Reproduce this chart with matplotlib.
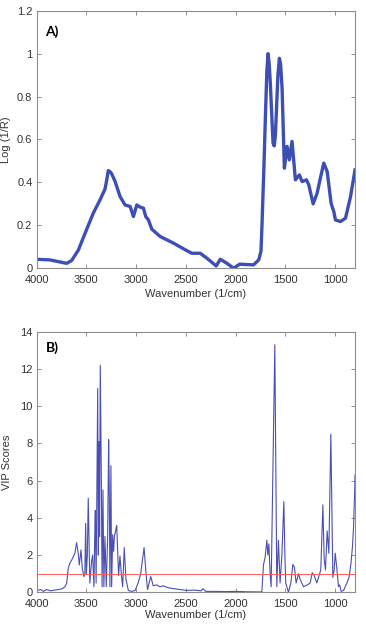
import matplotlib
matplotlib.use("Agg")
import matplotlib.pyplot as plt
from matplotlib.ticker import FuncFormatter

# spectrum (panel A)
wn_a = [4000, 3866, 3698, 3648, 3580, 3513, 3430, 3362, 3312, 3292, 3280, 3262,
        3245, 3211, 3161, 3111, 3060, 3027, 2993, 2960, 2926, 2903, 2876, 2842,
        2758, 2624, 2490, 2440, 2356, 2289, 2195, 2154, 2087, 2020, 1960, 1819,
        1768, 1745, 1735, 1715, 1701, 1686, 1674, 1662, 1651, 1624, 1612, 1600,
        1575, 1560, 1548, 1533, 1510, 1483, 1460, 1433, 1399, 1359, 1332, 1288,
        1265, 1221, 1181, 1141, 1114, 1080, 1040, 1013, 997, 946, 896, 845, 800]
log_r = [0.042, 0.039, 0.023, 0.036, 0.085, 0.163, 0.257, 0.319, 0.370, 0.420,
         0.455, 0.450, 0.440, 0.404, 0.334, 0.295, 0.288, 0.241, 0.295, 0.285,
         0.280, 0.241, 0.225, 0.182, 0.148, 0.117, 0.082, 0.070, 0.070, 0.047,
         0.011, 0.042, 0.023, 0.000, 0.019, 0.016, 0.039, 0.080, 0.200, 0.480,
         0.700, 0.920, 1.000, 0.950, 0.860, 0.584, 0.570, 0.620, 0.900, 0.978,
         0.950, 0.840, 0.466, 0.568, 0.505, 0.591, 0.412, 0.435, 0.404, 0.412,
         0.389, 0.300, 0.350, 0.435, 0.490, 0.451, 0.302, 0.264, 0.225, 0.218,
         0.233, 0.334, 0.458]

# VIP scores (panel B)
wn_b = [4000, 3960, 3930, 3900, 3860, 3820, 3780, 3740, 3715, 3698, 3682, 3665,
        3638, 3615, 3598, 3582, 3571, 3554, 3541, 3524, 3515, 3507, 3500, 3490,
        3481, 3465, 3447, 3437, 3424, 3416, 3410, 3402, 3386, 3380, 3373, 3367,
        3360, 3350, 3342, 3333, 3324, 3313, 3300, 3286, 3276, 3270, 3263, 3253,
        3246, 3235, 3226, 3218, 3195, 3176, 3162, 3149, 3135, 3119, 3102, 3078,
        3045, 3010, 2980, 2954, 2920, 2900, 2885, 2853, 2828, 2795, 2760, 2728,
        2680, 2627, 2560, 2491, 2420, 2345, 2330, 2300, 2200, 2100, 2000, 1900,
        1800, 1745, 1737, 1720, 1703, 1686, 1676, 1666, 1653, 1643, 1606, 1586,
        1570, 1553, 1535, 1515, 1505, 1496, 1469, 1445, 1425, 1409, 1392, 1368,
        1352, 1318, 1280, 1251, 1230, 1210, 1184, 1144, 1123, 1110, 1097, 1080,
        1063, 1043, 1023, 1010, 999, 983, 966, 955, 940, 915, 882, 860, 840, 825,
        815, 808, 803, 800]
vip = [0.10, 0.15, 0.05, 0.15, 0.08, 0.12, 0.15, 0.20, 0.30, 0.48, 1.29, 1.56,
       1.83, 2.10, 2.67, 2.10, 1.47, 2.28, 1.30, 0.84, 1.00, 3.70, 1.00, 2.00,
       5.05, 0.50, 1.70, 2.00, 0.30, 2.90, 4.40, 0.50, 10.95, 2.00, 8.10, 3.00,
       12.20, 6.50, 0.30, 5.50, 0.30, 3.00, 0.30, 3.00, 8.20, 5.70, 0.30, 6.80,
       0.30, 3.10, 2.20, 3.00, 3.60, 0.90, 1.95, 1.00, 0.30, 2.40, 0.70, 0.10,
       0.05, 0.10, 0.50, 1.00, 2.40, 1.00, 0.15, 0.85, 0.35, 0.40, 0.30, 0.35,
       0.25, 0.20, 0.15, 0.10, 0.12, 0.08, 0.20, 0.05, 0.05, 0.04, 0.05, 0.03,
       0.02, 0.02, 0.00, 1.47, 1.90, 2.80, 2.00, 2.60, 1.00, 0.30, 13.30, 0.30,
       2.80, 0.50, 2.00, 4.87, 2.00, 0.50, 0.00, 0.50, 1.50, 1.35, 0.50, 1.00,
       0.70, 0.30, 0.40, 0.50, 1.05, 0.90, 0.50, 1.20, 4.70, 1.80, 1.20, 3.30,
       2.10, 8.50, 0.80, 1.20, 2.10, 1.30, 0.30, 0.40, 0.05, 0.10, 0.50, 0.80,
       1.60, 2.50, 3.50, 4.70, 5.50, 6.30]

x_ticks = [4000, 3500, 3000, 2500, 2000, 1500, 1000]
threshold = 1.0

plt.rcParams['font.family'] = ['Liberation Sans', 'DejaVu Sans']

fig = plt.figure(figsize=(3.66, 6.28), dpi=100)
ax_a = fig.add_axes([0.100, 0.5728, 0.870, 0.4102])
ax_b = fig.add_axes([0.100, 0.0568, 0.870, 0.4150])

ax_a.plot(wn_a, log_r, color='#3d4fb5', lw=2.4, solid_joinstyle='round')
ax_b.plot(wn_b, vip, color='#4a4fb3', lw=0.8)
ax_b.axhline(threshold, color='#ff5c5c', lw=0.7)

fmt = FuncFormatter(lambda v, p: '%g' % v)
for ax in (ax_a, ax_b):
    ax.set_xlim(4000, 800)
    ax.set_xticks(x_ticks)
    ax.yaxis.set_major_formatter(fmt)
    ax.tick_params(direction='in', top=True, right=True, length=3, width=0.6,
                   color='#808080', labelsize=8, labelcolor='#333333', pad=3)
    ax.tick_params(axis='x', pad=4.5)
    for s in ax.spines.values():
        s.set_color('#8c8c8c')
        s.set_linewidth(0.8)
    ax.set_xlabel('Wavenumber (1/cm)', fontsize=8, color='#333333')

ax_a.set_ylim(0, 1.2)
ax_a.set_yticks([0, 0.2, 0.4, 0.6, 0.8, 1.0, 1.2])
ax_a.set_ylabel('Log (1/R)', fontsize=8, color='#333333')
ax_a.xaxis.set_label_coords(0.5, -0.082)
ax_a.yaxis.set_label_coords(-0.081, 0.5)
ax_a.text(0.028, 0.945, 'A)', transform=ax_a.transAxes, fontsize=10,
          fontweight='bold', family='Lato', va='top', ha='left')

ax_b.set_ylim(0, 14)
ax_b.set_yticks(range(0, 15, 2))
ax_b.set_ylabel('VIP Scores', fontsize=8, color='#333333')
ax_b.xaxis.set_label_coords(0.5, -0.066)
ax_b.yaxis.set_label_coords(-0.076, 0.5)
ax_b.text(0.028, 0.962, 'B)', transform=ax_b.transAxes, fontsize=10,
          fontweight='bold', family='Lato', va='top', ha='left')

fig.savefig('out.png', dpi=100)
